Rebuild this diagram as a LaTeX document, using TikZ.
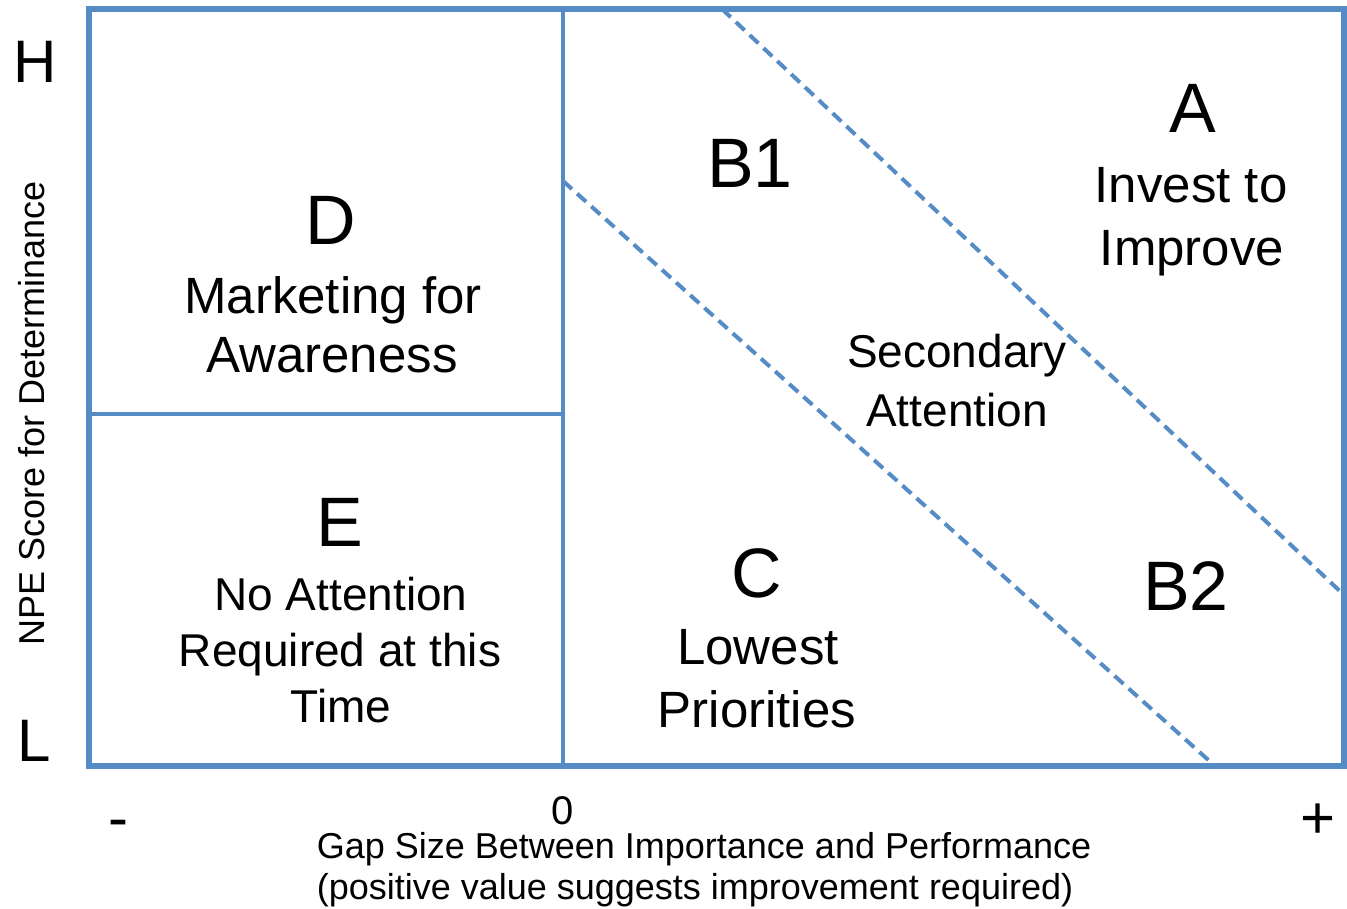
\documentclass[tikz,border=0pt]{standalone}
\usepackage{fontspec}
\setmainfont{Liberation Sans}
\definecolor{qblue}{RGB}{86,140,198}
\newcommand\fBig{\fontsize{70}{80}\selectfont}
\newcommand\fMid{\fontsize{51}{60}\selectfont}
\newcommand\fSm{\fontsize{46}{54}\selectfont}
\newcommand\fAx{\fontsize{36}{42}\selectfont}
\newcommand\fZero{\fontsize{40}{46}\selectfont}
\newcommand\fHL{\fontsize{60}{70}\selectfont}
\begin{document}
\begin{tikzpicture}[x=1pt,y=-1pt,
  outerline/.style={draw=qblue,line width=6.5pt},
  innerline/.style={draw=qblue,line width=3.5pt},
  dline/.style={draw=qblue,line width=4pt,dash pattern=on 12pt off 7pt},
  txt/.style={anchor=base,inner sep=0pt,text=black}]
\useasboundingbox (0,0) rectangle (1347,909);
\coordinate (tl) at (89,9);
\coordinate (br) at (1344,766);
\coordinate (mt) at (563,9);
\coordinate (mb) at (563,766);
\coordinate (ml) at (89,414);
\coordinate (mm) at (563,414);
\coordinate (d1a) at (722,9);
\coordinate (d1b) at (1344,595);
\coordinate (d2a) at (563,181);
\coordinate (d2b) at (1215,766);
% dividers
\draw[innerline] (mt) -- (mb);
\draw[innerline] (ml) -- (mm);
\draw[dline] (d1a) -- (d1b);
\draw[dline] (d2a) -- (d2b);
\draw[outerline] (tl) rectangle (br);
% axis labels
\node[txt,font=\fHL] (H) at (35,83) {H};
\node[txt,font=\fHL] (L) at (34,761) {L};
\node[txt,font=\fAx,rotate=90] (ylab) at (44,413) {NPE Score for Determinance};
\node[txt,font=\fHL] (minus) at (118,838) {-};
\node[txt,font=\fZero] (zero) at (563,824) {0};
\node[txt,font=\fHL] (plus) at (1318,838) {+};
\node[txt,font=\fAx] (xlab1) at (704,858) {Gap Size Between Importance and Performance};
\node[txt,font=\fAx] (xlab2) at (695,899) {(positive value suggests improvement required)};
% D
\node[txt,font=\fBig] (D) at (331,245) {D};
\node[txt,font=\fMid] (D1) at (333,314) {Marketing for};
\node[txt,font=\fMid] (D2) at (332,373) {Awareness};
% E
\node[txt,font=\fBig] (E) at (340,546) {E};
\node[txt,font=\fSm] (E1) at (341,610) {No Attention};
\node[txt,font=\fSm] (E2) at (340,666) {Required at this};
\node[txt,font=\fSm] (E3) at (341,722) {Time};
% A
\node[txt,font=\fBig] (A) at (1193,133) {A};
\node[txt,font=\fMid] (A1) at (1191,203) {Invest to};
\node[txt,font=\fMid] (A2) at (1192,266) {Improve};
% B1
\node[txt,font=\fBig] (B1) at (750,188) {B1};
% Secondary
\node[txt,font=\fSm] (S1) at (957,367) {Secondary};
\node[txt,font=\fSm] (S2) at (957,426) {Attention};
% C
\node[txt,font=\fBig] (C) at (757,597) {C};
\node[txt,font=\fMid] (C1) at (758,664) {Lowest};
\node[txt,font=\fMid] (C2) at (757,727) {Priorities};
% B2
\node[txt,font=\fBig] (B2) at (1186,610) {B2};
\end{tikzpicture}
\end{document}
